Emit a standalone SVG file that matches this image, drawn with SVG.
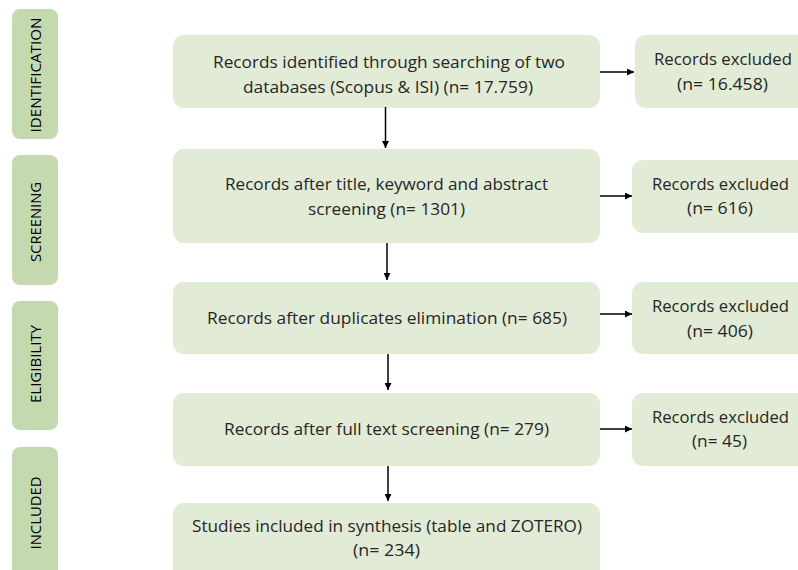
<svg xmlns="http://www.w3.org/2000/svg" width="798" height="570" viewBox="0 0 798 570">
<defs>
<style>
.bar{fill:#c5d9b1}
.box{fill:#e2ebd6}
.t{font-family:"Open Sans","Liberation Sans",sans-serif;font-size:16.5px;fill:#262626;text-anchor:middle}
.lab{font-family:"Open Sans","Liberation Sans",sans-serif;font-size:14.5px;fill:#000;text-anchor:middle}
.c{stroke:#000;stroke-width:1.5;fill:none;marker-end:url(#ah)}
</style>
<marker id="ah" viewBox="0 0 10 10" refX="10" refY="5" markerWidth="7" markerHeight="7" orient="auto" markerUnits="userSpaceOnUse"><path d="M0,0 L10,5 L0,10 z" fill="#000"/></marker>
</defs>
<rect width="798" height="570" fill="#fff"/>
<g id="stage-identification"><rect class="bar" x="12" y="9" width="46" height="130" rx="8"/><text class="lab" transform="translate(40.5,75) rotate(-90)" textLength="115" lengthAdjust="spacingAndGlyphs">IDENTIFICATION</text></g>
<g id="stage-screening"><rect class="bar" x="12" y="155" width="46" height="130" rx="8"/><text class="lab" transform="translate(40.5,222) rotate(-90)" textLength="80" lengthAdjust="spacingAndGlyphs">SCREENING</text></g>
<g id="stage-eligibility"><rect class="bar" x="12" y="301" width="46" height="129" rx="8"/><text class="lab" transform="translate(40.5,364) rotate(-90)" textLength="78" lengthAdjust="spacingAndGlyphs">ELIGIBILITY</text></g>
<g id="stage-included"><rect class="bar" x="12" y="447" width="46" height="135" rx="8"/><text class="lab" transform="translate(40.5,513) rotate(-90)" textLength="73" lengthAdjust="spacingAndGlyphs">INCLUDED</text></g>

<g id="box1"><rect class="box" x="173" y="35" width="427" height="73" rx="11"/>
<text class="t" x="389" y="68" textLength="352" lengthAdjust="spacingAndGlyphs">Records identified through searching of two</text>
<text class="t" x="388" y="93" textLength="290" lengthAdjust="spacingAndGlyphs">databases (Scopus &amp; ISI) (n= 17.759)</text></g>
<g id="box2"><rect class="box" x="173" y="149" width="427" height="94" rx="11"/>
<text class="t" x="386.5" y="190" textLength="323" lengthAdjust="spacingAndGlyphs">Records after title, keyword and abstract</text>
<text class="t" x="386.5" y="215" textLength="157" lengthAdjust="spacingAndGlyphs">screening (n= 1301)</text></g>
<g id="box3"><rect class="box" x="173" y="282" width="427" height="72" rx="11"/>
<text class="t" x="387" y="324" textLength="360" lengthAdjust="spacingAndGlyphs">Records after duplicates elimination (n= 685)</text></g>
<g id="box4"><rect class="box" x="173" y="393" width="427" height="73" rx="11"/>
<text class="t" x="386.5" y="435" textLength="325" lengthAdjust="spacingAndGlyphs">Records after full text screening (n= 279)</text></g>
<g id="box5"><rect class="box" x="173" y="503" width="427" height="80" rx="11"/>
<text class="t" x="387" y="532" textLength="390" lengthAdjust="spacingAndGlyphs">Studies included in synthesis (table and ZOTERO)</text>
<text class="t" x="386.5" y="556" textLength="67" lengthAdjust="spacingAndGlyphs">(n= 234)</text></g>

<g id="excl1"><rect class="box" x="635" y="35" width="180" height="73" rx="11"/>
<text class="t" x="723" y="65" textLength="138" lengthAdjust="spacingAndGlyphs">Records excluded</text>
<text class="t" x="722.5" y="90" textLength="91" lengthAdjust="spacingAndGlyphs">(n= 16.458)</text></g>
<g id="excl2"><rect class="box" x="632" y="160" width="180" height="73" rx="11"/>
<text class="t" x="720.5" y="190" textLength="137" lengthAdjust="spacingAndGlyphs">Records excluded</text>
<text class="t" x="720" y="214" textLength="66" lengthAdjust="spacingAndGlyphs">(n= 616)</text></g>
<g id="excl3"><rect class="box" x="632" y="282" width="180" height="72" rx="11"/>
<text class="t" x="720.5" y="312" textLength="137" lengthAdjust="spacingAndGlyphs">Records excluded</text>
<text class="t" x="720" y="337" textLength="66" lengthAdjust="spacingAndGlyphs">(n= 406)</text></g>
<g id="excl4"><rect class="box" x="632" y="393" width="180" height="73" rx="11"/>
<text class="t" x="720.5" y="423" textLength="137" lengthAdjust="spacingAndGlyphs">Records excluded</text>
<text class="t" x="719.5" y="447" textLength="55" lengthAdjust="spacingAndGlyphs">(n= 45)</text></g>

<g id="connectors">
<line class="c" x1="385.5" y1="107" x2="385.5" y2="148"/>
<line class="c" x1="387" y1="243" x2="387" y2="280"/>
<line class="c" x1="388" y1="354" x2="388" y2="390"/>
<line class="c" x1="388" y1="466" x2="388" y2="501"/>
<line class="c" x1="600" y1="72" x2="634" y2="72"/>
<line class="c" x1="600" y1="196" x2="632" y2="196"/>
<line class="c" x1="600" y1="314" x2="632" y2="314"/>
<line class="c" x1="600" y1="429" x2="632" y2="429"/>
</g>
</svg>
